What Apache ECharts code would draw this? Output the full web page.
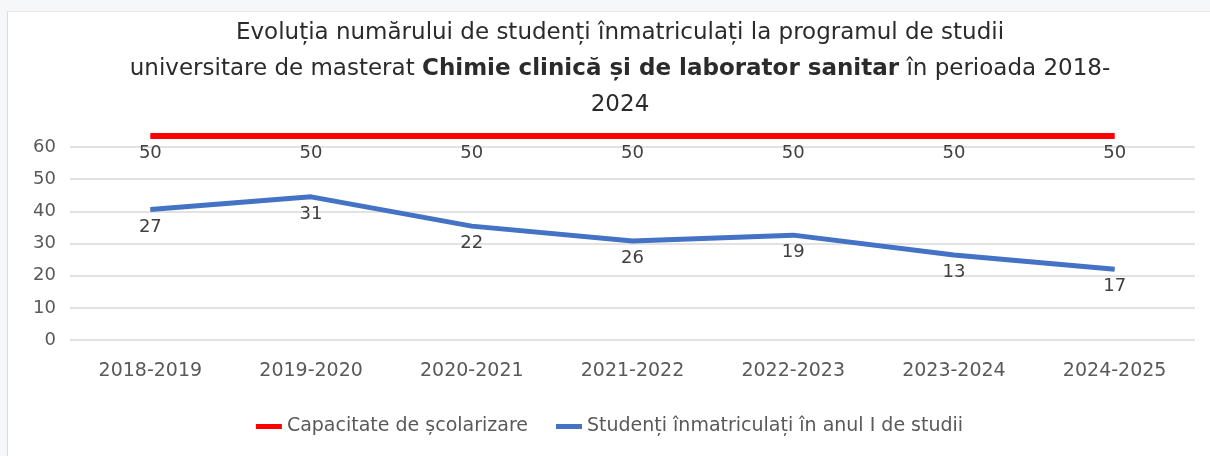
<!DOCTYPE html>
<html>
<head>
<meta charset="utf-8">
<script src="https://cdn.jsdelivr.net/npm/echarts@6/dist/echarts.min.js"></script>
<style>
  html, body { margin: 0; padding: 0; background: #f5f7f9; }
  #chart {
    position: absolute;
    left: 7px;
    top: 11px;
    width: 1203px;
    height: 445px;
    background: #ffffff;
    border-left: 1px solid #dcdcdc;
    border-top: 1px solid #e6e6e6;
  }
</style>
</head>
<body>
<div id="chart"></div>
<script>
const categories = ['2018-2019', '2019-2020', '2020-2021', '2021-2022', '2022-2023', '2023-2024', '2024-2025'];
// plotted positions as they appear on the picture
const capacityPlotted = [63.4, 63.4, 63.4, 63.4, 63.4, 63.4, 63.4];
const enrolledPlotted = [40.6, 44.5, 35.4, 30.8, 32.6, 26.4, 22.0];
// numbers printed next to the points
const capacityLabels = [50, 50, 50, 50, 50, 50, 50];
const enrolledLabels = [27, 31, 22, 26, 19, 13, 17];
const yTicks = { min: 0, max: 60, interval: 10 };

const chart = echarts.init(document.getElementById('chart'));
const font = '"DejaVu Sans", sans-serif';

const option = {
  animation: false,
  title: {
    text: 'Evoluția numărului de studenți înmatriculați la programul de studii\n' +
      'universitare de masterat {b|Chimie clinică și de laborator sanitar} în perioada 2018-\n2024',
    left: 607,
    top: -2,
    textAlign: 'center',
    textStyle: {
      fontFamily: font,
      fontSize: 23,
      fontWeight: 'normal',
      color: '#2b2b2b',
      lineHeight: 36,
      rich: {
        b: { fontFamily: font, fontSize: 23, fontWeight: 'bold', color: '#2b2b2b', lineHeight: 36 }
      }
    }
  },
  legend: {
    bottom: 16,
    left: 'center',
    icon: 'rect',
    itemWidth: 26,
    itemHeight: 5,
    itemGap: 28,
    textStyle: { fontFamily: font, fontSize: 19, color: '#595959' },
    data: ['Capacitate de școlarizare', 'Studenți înmatriculați în anul I de studii']
  },
  grid: { left: 62, right: 16, top: 135, bottom: 117 },
  xAxis: {
    type: 'category',
    data: categories,
    boundaryGap: true,
    axisLine: { show: false },
    axisTick: { show: false },
    axisLabel: { fontFamily: font, fontSize: 19, color: '#595959', margin: 22 }
  },
  yAxis: {
    type: 'value',
    min: yTicks.min,
    max: yTicks.max,
    interval: yTicks.interval,
    axisLine: { show: false },
    axisTick: { show: false },
    axisLabel: { fontFamily: font, fontSize: 18, color: '#595959', margin: 14 },
    splitLine: { lineStyle: { color: '#d9d9d9', width: 1.5 } }
  },
  series: [
    {
      name: 'Capacitate de școlarizare',
      type: 'line',
      data: capacityPlotted,
      clip: false,
      symbol: 'circle',
      symbolSize: 1,
      showSymbol: true,
      color: '#ff0000',
      lineStyle: { width: 6, color: '#ff0000' },
      label: {
        show: true,
        position: 'bottom',
        distance: 8,
        fontFamily: font,
        fontSize: 18,
        color: '#404040',
        formatter: p => capacityLabels[p.dataIndex]
      }
    },
    {
      name: 'Studenți înmatriculați în anul I de studii',
      type: 'line',
      data: enrolledPlotted,
      symbol: 'circle',
      symbolSize: 1,
      showSymbol: true,
      color: '#4472c4',
      lineStyle: { width: 5, color: '#4472c4' },
      label: {
        show: true,
        position: 'bottom',
        distance: 8,
        fontFamily: font,
        fontSize: 18,
        color: '#404040',
        formatter: p => enrolledLabels[p.dataIndex]
      }
    }
  ]
};

chart.setOption(option);
window.addEventListener('resize', () => chart.resize());
</script>
</body>
</html>
